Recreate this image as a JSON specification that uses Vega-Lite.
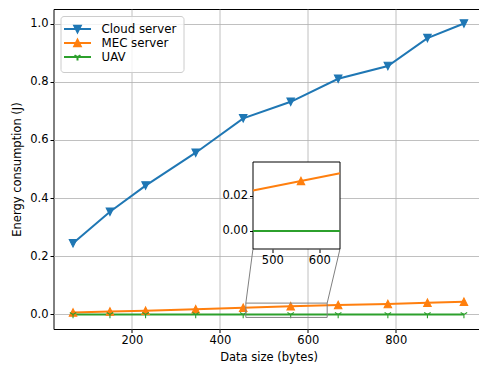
{
  "$schema": "https://vega.github.io/schema/vega-lite/v6.json",
  "width": 430,
  "height": 320,
  "autosize": {"type": "none"},
  "padding": {"left": 53.5, "top": 9, "right": 0, "bottom": 38},
  "background": "white",
  "config": {
    "font": "DejaVu Sans",
    "view": {"stroke": "black", "strokeWidth": 1},
    "axis": {
      "labelFontSize": 11.5, "titleFontSize": 11.5, "labelColor": "black", "titleColor": "black",
      "titleFontWeight": "normal", "tickColor": "black", "tickSize": 3.5, "tickWidth": 1,
      "labelPadding": 2, "domain": false, "gridColor": "#b0b0b0", "gridWidth": 0.8, "gridOpacity": 1
    },
    "legend": {
      "orient": "top-left", "offset": 7, "padding": 7, "strokeColor": "#cccccc", "fillColor": "rgba(255,255,255,0.8)",
      "cornerRadius": 3, "labelFontSize": 11.8, "labelColor": "black", "symbolSize": 100, "symbolStrokeWidth": 2,
      "symbolOffset": 4, "labelOffset": 18, "rowPadding": -3.5
    }
  },
  "datasets": {
    "perf": [
      {"size": 66, "energy": 0.245, "series": "Cloud server"},
      {"size": 150, "energy": 0.353, "series": "Cloud server"},
      {"size": 231, "energy": 0.443, "series": "Cloud server"},
      {"size": 345, "energy": 0.556, "series": "Cloud server"},
      {"size": 453, "energy": 0.674, "series": "Cloud server"},
      {"size": 561, "energy": 0.731, "series": "Cloud server"},
      {"size": 669, "energy": 0.81, "series": "Cloud server"},
      {"size": 782, "energy": 0.854, "series": "Cloud server"},
      {"size": 872, "energy": 0.95, "series": "Cloud server"},
      {"size": 955, "energy": 1.0, "series": "Cloud server"},
      {"size": 66, "energy": 0.007, "series": "MEC server"},
      {"size": 150, "energy": 0.01, "series": "MEC server"},
      {"size": 231, "energy": 0.013, "series": "MEC server"},
      {"size": 345, "energy": 0.018, "series": "MEC server"},
      {"size": 453, "energy": 0.0229, "series": "MEC server"},
      {"size": 561, "energy": 0.0283, "series": "MEC server"},
      {"size": 669, "energy": 0.0326, "series": "MEC server"},
      {"size": 782, "energy": 0.036, "series": "MEC server"},
      {"size": 872, "energy": 0.04, "series": "MEC server"},
      {"size": 955, "energy": 0.044, "series": "MEC server"},
      {"size": 66, "energy": 0, "series": "UAV"},
      {"size": 150, "energy": 0, "series": "UAV"},
      {"size": 231, "energy": 0, "series": "UAV"},
      {"size": 345, "energy": 0, "series": "UAV"},
      {"size": 453, "energy": 0, "series": "UAV"},
      {"size": 561, "energy": 0, "series": "UAV"},
      {"size": 669, "energy": 0, "series": "UAV"},
      {"size": 782, "energy": 0, "series": "UAV"},
      {"size": 872, "energy": 0, "series": "UAV"},
      {"size": 955, "energy": 0, "series": "UAV"}
    ],
    "zoom": [{"x0": 459, "x1": 644, "y0": -0.0102, "y1": 0.039}],
    "links": [
      {"x0": 459, "y0": 0.039, "x1": 475.2, "y1": 0.225},
      {"x0": 644, "y0": 0.039, "x1": 673.1, "y1": 0.225}
    ]
  },
  "layer": [
    {
      "layer": [
        {
          "data": {"name": "perf"},
          "mark": {"type": "line", "strokeWidth": 2},
          "encoding": {
            "x": {"field": "size", "type": "quantitative", "scale": {"domain": [21.6, 999.5], "nice": false, "zero": false},
              "axis": {"orient": "bottom", "grid": true, "values": [200, 400, 600, 800], "title": "Data size (bytes)", "titlePadding": 5}},
            "y": {"field": "energy", "type": "quantitative", "scale": {"domain": [-0.05, 1.05], "nice": false, "zero": false},
              "axis": {"orient": "left", "grid": true, "values": [0, 0.2, 0.4, 0.6, 0.8, 1.0], "format": ".1f", "title": "Energy consumption (J)", "titlePadding": 7}},
            "color": {"field": "series", "type": "nominal", "scale": {"domain": ["Cloud server", "MEC server", "UAV"], "range": ["#1f77b4", "#ff7f0e", "#2ca02c"]}, "legend": null}
          }
        },
        {
          "data": {"name": "perf"},
          "mark": {"type": "point", "filled": true, "opacity": 1, "strokeWidth": 1.1},
          "encoding": {
            "x": {"field": "size", "type": "quantitative", "scale": {"domain": [21.6, 999.5], "nice": false, "zero": false}},
            "y": {"field": "energy", "type": "quantitative", "scale": {"domain": [-0.05, 1.05], "nice": false, "zero": false}},
            "color": {"field": "series", "type": "nominal", "scale": {"domain": ["Cloud server", "MEC server", "UAV"], "range": ["#1f77b4", "#ff7f0e", "#2ca02c"]}, "legend": null},
            "stroke": {"field": "series", "type": "nominal", "scale": {"domain": ["Cloud server", "MEC server", "UAV"], "range": ["#1f77b4", "#ff7f0e", "#2ca02c"]}, "legend": null},
            "shape": {"field": "series", "type": "nominal", "scale": {"domain": ["Cloud server", "MEC server", "UAV"], "range": ["M0,1L-1,-1L1,-1Z", "M0,-1L-1,1L1,1Z", "M0,0L0,1M0,0L0.866,-0.5M0,0L-0.866,-0.5"]}, "legend": null},
            "size": {"value": 56}
          }
        },
        {
          "data": {"name": "zoom"},
          "mark": {"type": "rect", "fillOpacity": 0, "stroke": "#808080", "strokeWidth": 1},
          "encoding": {
            "x": {"field": "x0", "type": "quantitative", "scale": {"domain": [21.6, 999.5], "nice": false, "zero": false}},
            "x2": {"field": "x1"},
            "y": {"field": "y0", "type": "quantitative", "scale": {"domain": [-0.05, 1.05], "nice": false, "zero": false}},
            "y2": {"field": "y1"}
          }
        },
        {
          "data": {"name": "links"},
          "mark": {"type": "rule", "stroke": "#808080", "strokeWidth": 1},
          "encoding": {
            "x": {"field": "x0", "type": "quantitative", "scale": {"domain": [21.6, 999.5], "nice": false, "zero": false}},
            "x2": {"field": "x1"},
            "y": {"field": "y0", "type": "quantitative", "scale": {"domain": [-0.05, 1.05], "nice": false, "zero": false}},
            "y2": {"field": "y1"}
          }
        }
      ]
    },
    {
      "data": {"name": "perf"},
      "transform": [{"filter": "false"}],
      "mark": {"type": "point", "filled": true, "opacity": 1, "strokeWidth": 2},
      "encoding": {
        "color": {"field": "series", "type": "nominal", "scale": {"domain": ["Cloud server", "MEC server", "UAV"], "range": ["#1f77b4", "#ff7f0e", "#2ca02c"]}, "legend": {"title": null}},
        "stroke": {"field": "series", "type": "nominal", "scale": {"domain": ["Cloud server", "MEC server", "UAV"], "range": ["#1f77b4", "#ff7f0e", "#2ca02c"]}, "legend": {"title": null}},
        "shape": {"field": "series", "type": "nominal", "scale": {"domain": ["Cloud server", "MEC server", "UAV"], "range": [
          "M-2.7,0H2.7M0,0.65L-0.65,-0.65L0.65,-0.65Z",
          "M-2.7,0H2.7M0,-0.65L-0.65,0.65L0.65,0.65Z",
          "M-2.7,0H2.7M0,0L0,0.7M0,0L0.6,-0.35M0,0L-0.6,-0.35"]}, "legend": {"title": null}}
      }
    },
    {
      "layer": [
        {
          "data": {"name": "zoom"},
          "mark": {"type": "rect", "fill": "white", "stroke": "black", "strokeWidth": 1},
          "encoding": {
            "x": {"field": "x0", "type": "quantitative", "scale": {"domain": [459, 644], "range": [199.5, 286.5], "nice": false, "zero": false, "clamp": true},
              "axis": {"orient": "bottom", "offset": -80, "grid": false, "values": [500, 600], "title": null}},
            "x2": {"field": "x1"},
            "y": {"field": "y0", "type": "quantitative", "scale": {"domain": [-0.0102, 0.039], "range": [240, 153], "nice": false, "zero": false, "clamp": true},
              "axis": {"orient": "left", "offset": -199.5, "grid": false, "values": [0, 0.02], "format": ".2f", "title": null}},
            "y2": {"field": "y1"}
          }
        },
        {
          "data": {"name": "perf"},
          "transform": [{"filter": "datum.series !== 'Cloud server' && datum.size >= 453 && datum.size <= 669"}],
          "mark": {"type": "line", "strokeWidth": 2},
          "encoding": {
            "x": {"field": "size", "type": "quantitative", "scale": {"domain": [459, 644], "range": [199.5, 286.5], "nice": false, "zero": false, "clamp": true}},
            "y": {"field": "energy", "type": "quantitative", "scale": {"domain": [-0.0102, 0.039], "range": [240, 153], "nice": false, "zero": false, "clamp": true}},
            "color": {"field": "series", "type": "nominal", "scale": {"domain": ["Cloud server", "MEC server", "UAV"], "range": ["#1f77b4", "#ff7f0e", "#2ca02c"]}, "legend": null}
          }
        },
        {
          "data": {"name": "perf"},
          "transform": [{"filter": "datum.series === 'MEC server' && datum.size >= 459 && datum.size <= 644"}],
          "mark": {"type": "point", "filled": true, "opacity": 1, "strokeWidth": 1.1},
          "encoding": {
            "x": {"field": "size", "type": "quantitative", "scale": {"domain": [459, 644], "range": [199.5, 286.5], "nice": false, "zero": false, "clamp": true}},
            "y": {"field": "energy", "type": "quantitative", "scale": {"domain": [-0.0102, 0.039], "range": [240, 153], "nice": false, "zero": false, "clamp": true}},
            "color": {"field": "series", "type": "nominal", "scale": {"domain": ["Cloud server", "MEC server", "UAV"], "range": ["#1f77b4", "#ff7f0e", "#2ca02c"]}, "legend": null},
            "stroke": {"field": "series", "type": "nominal", "scale": {"domain": ["Cloud server", "MEC server", "UAV"], "range": ["#1f77b4", "#ff7f0e", "#2ca02c"]}, "legend": null},
            "shape": {"field": "series", "type": "nominal", "scale": {"domain": ["Cloud server", "MEC server", "UAV"], "range": ["M0,1L-1,-1L1,-1Z", "M0,-1L-1,1L1,1Z", "M0,0L0,1M0,0L0.866,-0.5M0,0L-0.866,-0.5"]}, "legend": null},
            "size": {"value": 56}
          }
        }
      ]
    }
  ],
  "resolve": {"scale": {"x": "independent", "y": "independent", "color": "independent", "stroke": "independent", "shape": "independent"}}
}
